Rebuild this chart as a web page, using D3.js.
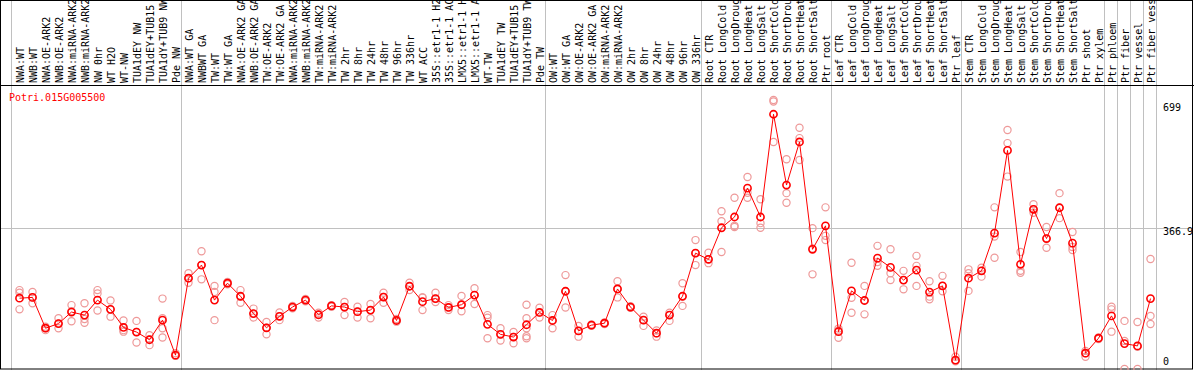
<!DOCTYPE html>
<meta charset="utf-8">
<style>
    body { margin: 0; background: #fff; }
    svg text { font-family: 'DejaVu Sans Mono', monospace; font-size: 10px; }
</style>
<div id="chart"></div>
<script src="https://d3js.org/d3.v7.min.js"></script>
<script>

    var width = 1194;
    var height = 370;

    const geneId = "Potri.015G005500";

    const labels = [
        "NWA:WT", "NWB:WT", "NWA:OE-ARK2", "NWB:OE-ARK2", "NWA:miRNA-ARK2", "NWB:miRNA-ARK2", "NW 0hr", "WT H2O", "WT-NW", "TUA1dEY NW", "TUA1dEY+TUB15", "TUA1dY+TUB9 NW", "Pde NW",
        "NWA:WT GA", "NWBWT GA", "TW:WT", "TW:WT GA", "NWA:OE-ARK2 GA", "NWB:OE-ARK2 GA", "TW:OE-ARK2", "TW:OE-ARK2 GA", "NWA:miRNA-ARK2", "NWB:miRNA-ARK2", "TW:miRNA-ARK2", "TW:miRNA-ARK2",
        "TW 2hr", "TW 8hr", "TW 24hr", "TW 48hr", "TW 96hr", "TW 336hr", "WT ACC", "35S::etr1-1 H2", "35S::etr1-1 AC", "LMX5::etr1-1 H", "LMX5::etr1-1 A", "WT-TW", "TUA1dEY TW", "TUA1dEY+TUB15", "TUA1dY+TUB9 TW", "Pde TW",
        "OW:WT", "OW:WT GA", "OW:OE-ARK2", "OW:OE-ARK2 GA", "OW:miRNA-ARK2", "OW:miRNA-ARK2", "OW 2hr", "OW 8hr", "OW 24hr", "OW 48hr", "OW 96hr", "OW 336hr",
        "Root CTR", "Root LongCold", "Root LongDroug", "Root LongHeat", "Root LongSalt", "Root ShortCold", "Root ShortDrou", "Root ShortHeat", "Root ShortSalt", "Ptr root",
        "Leaf CTR", "Leaf LongCold", "Leaf LongDroug", "Leaf LongHeat", "Leaf LongSalt", "Leaf ShortCold", "Leaf ShortDrou", "Leaf ShortHeat", "Leaf ShortSalt", "Ptr leaf",
        "Stem CTR", "Stem LongCold", "Stem LongDroug", "Stem LongHeat", "Stem LongSalt", "Stem ShortCold", "Stem ShortDrou", "Stem ShortHeat", "Stem ShortSalt", "Ptr shoot", "Ptr xylem",
        "Ptr phloem", "Ptr fiber", "Ptr vessel", "Ptr fiber vess"
    ];

    // index of the last sample in each group
    const groupEnds = [12, 40, 52, 62, 72, 83, 84, 85, 86, 87];

    const means = [
        184, 186, 106, 118, 148, 140, 179, 155, 108, 96, 76, 127, 36,
        236, 270, 179, 223, 189, 144, 107, 137, 161, 179, 141, 164, 161, 149, 153, 187, 126, 215, 175, 183, 160, 167, 192, 116, 90, 83, 115, 147,
        126, 202, 99, 114, 119, 208, 161, 127, 93, 140, 189, 301,
        285, 367, 395, 470, 395, 662, 478, 590, 311, 372,
        97, 203, 178, 288, 264, 231, 257, 200, 216, 23,
        236, 255, 353, 568, 272, 415, 339, 419, 327, 41, 80,
        138, 66, 60, 183
    ];

    const replicates = [
        [205, 198, 155], [200, 186, 171], [110, 101, 106], [132, 106, 118], [166, 124, 150], [171, 120, 130], [205, 196, 152],
        [178, 136, 155], [126, 97, 101], [125, 69, 96], [88, 62, 77], [183, 106, 82, 132], [41, 34, 36],
        [249, 224, 236], [306, 270, 233], [216, 200, 127], [224, 220, 226], [205, 172, 189], [157, 134, 144], [122, 90, 107],
        [147, 127, 137], [164, 158, 161], [182, 176, 179], [146, 134, 141], [166, 162, 164], [174, 140, 161], [162, 134, 149],
        [169, 132, 153], [198, 172, 187], [130, 123, 126], [224, 205, 215], [186, 153, 186], [198, 174, 183], [166, 153, 160],
        [190, 150, 167], [210, 169, 192], [140, 133, 80], [106, 74, 90], [96, 67, 83], [167, 132, 106, 80, 85], [159, 134, 147],
        [140, 106, 126], [244, 160, 202], [112, 84, 99], [116, 112, 114], [121, 117, 119], [228, 186, 208], [163, 159, 161],
        [136, 112, 127], [100, 84, 93], [146, 125, 140], [223, 164, 189], [335, 270, 301],
        [302, 275, 285], [410, 384, 304], [445, 372, 369], [499, 445, 458], [441, 379, 367], [699, 695, 590], [545, 457, 432],
        [627, 600, 543], [366, 313, 246], [420, 346, 335],
        [105, 100, 81], [276, 185, 146], [216, 178, 142], [320, 268, 278], [311, 249, 231], [255, 231, 207], [294, 268, 216],
        [228, 188, 181], [242, 202, 216], [32, 23, 20],
        [259, 249, 203], [263, 240, 255], [420, 344, 289], [621, 587, 500], [304, 255, 250], [428, 415, 406], [369, 339, 315],
        [457, 392, 419], [356, 317, 309], [32, 47, 41], [82, 78, 80],
        [162, 155, 97], [125, 0, 73], [122, 0, 58], [286, 138, 117]
    ];

    const yTicks = [0, 366.9, 699];

    const x = d3.scaleLinear()
                .domain([0, labels.length - 1])
                .range([19.5, 19.5 + 13 * (labels.length - 1)]);

    const y = d3.scaleLinear()
                .domain([0, 699])
                .range([369, 100]);

    const svg = d3.select("#chart")
                  .append("svg")
                  .attr("width", width)
                  .attr("height", height);

    // separators between sample groups
    const sepX = [x(0) - 9].concat(groupEnds.map(i => x(i) + 5));
    svg.append("g")
       .attr("stroke", "#c0c0c0")
       .selectAll("line")
       .data(sepX)
       .join("line")
       .attr("x1", d => Math.round(d) + 0.5)
       .attr("x2", d => Math.round(d) + 0.5)
       .attr("y1", 0)
       .attr("y2", height);

    // middle grid line
    svg.append("line")
       .attr("stroke", "#c0c0c0")
       .attr("x1", 1)
       .attr("x2", 1192)
       .attr("y1", Math.round(y(366.9)) + 0.5)
       .attr("y2", Math.round(y(366.9)) + 0.5);

    // frame and label box
    svg.append("rect")
       .attr("x", 0.5).attr("y", 0.5)
       .attr("width", 1192).attr("height", 368.5)
       .attr("fill", "none")
       .attr("stroke", "black");

    svg.append("line")
       .attr("stroke", "black")
       .attr("x1", 0).attr("x2", width)
       .attr("y1", 85.5).attr("y2", 85.5);

    // sample names, rotated
    svg.append("g")
       .selectAll("text")
       .data(labels)
       .join("text")
       .attr("transform", (d, i) => `translate(${x(i) + 4},83) rotate(-90)`)
       .attr("fill", "black")
       .text(d => d);

    // y labels on the right
    svg.append("g")
       .selectAll("text")
       .data(yTicks)
       .join("text")
       .attr("x", 1163)
       .attr("y", d => d === 0 ? y(d) - 4 : Math.max(y(d) + 7, 110.5))
       .attr("fill", "black")
       .text(d => d);

    svg.append("text")
       .attr("x", 9)
       .attr("y", 101)
       .attr("fill", "red")
       .text(geneId);

    // replicate samples
    const reps = [];
    replicates.forEach((r, i) => r.forEach(v => reps.push({i: i, v: v})));

    svg.append("g")
       .attr("fill", "none")
       .attr("stroke", "#ee9999")
       .attr("stroke-width", 1.2)
       .selectAll("circle")
       .data(reps)
       .join("circle")
       .attr("cx", d => x(d.i))
       .attr("cy", d => y(d.v))
       .attr("r", 3.6);

    const line = d3.line()
                   .x((d, i) => x(i))
                   .y(d => y(d));

    svg.append("path")
       .datum(means)
       .attr("fill", "none")
       .attr("stroke", "red")
       .attr("stroke-width", 1)
       .attr("d", line);

    svg.append("g")
       .attr("fill", "none")
       .attr("stroke", "red")
       .attr("stroke-width", 1.6)
       .selectAll("circle")
       .data(means)
       .join("circle")
       .attr("cx", (d, i) => x(i))
       .attr("cy", d => y(d))
       .attr("r", 3.6);

</script>
